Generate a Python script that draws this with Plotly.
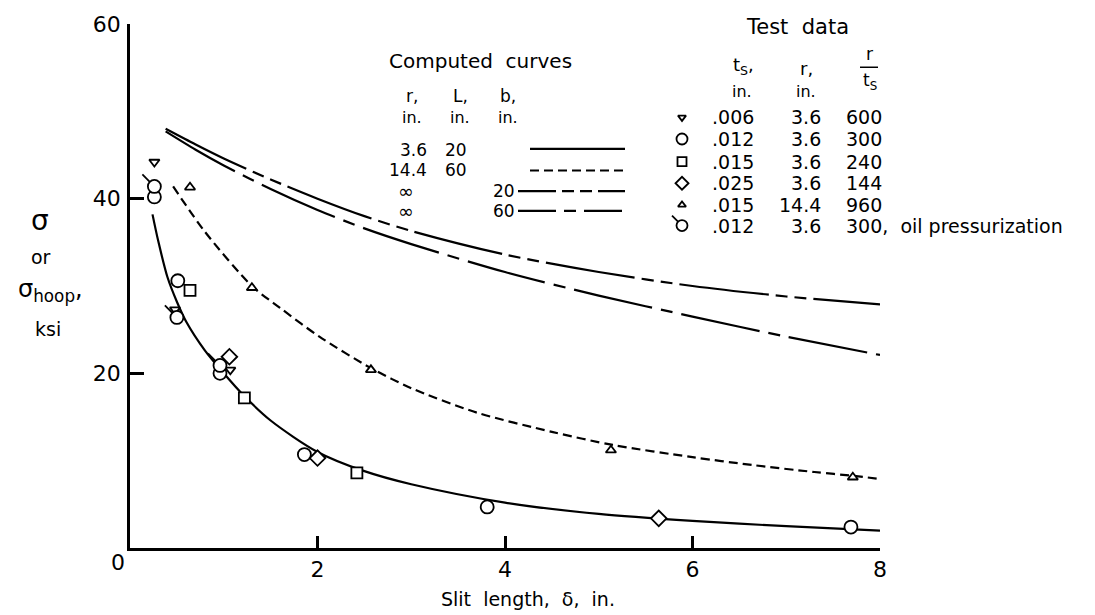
import plotly.graph_objects as go

# ---------------- data ----------------
# computed curves
c36_x = [0.24, 0.3, 0.4, 0.5, 0.6, 0.8, 1.0, 1.2, 1.5, 2.0, 2.5, 3.0, 4.0, 5.0, 6.0, 7.0, 8.0]
c36_y = [38.2, 35.2, 31.0, 28.2, 25.9, 22.6, 20.0, 17.6, 14.6, 11.0, 8.8, 7.3, 5.2, 3.9, 3.1, 2.5, 2.0]
c144_x = [0.46, 0.8, 1.3, 1.6, 2.02, 2.57, 3.0, 3.7, 4.5, 5.15, 6.0, 6.64, 7.3, 7.77, 8.0]
c144_y = [41.4, 36.2, 30.0, 27.5, 24.2, 20.6, 18.3, 15.5, 13.3, 11.8, 10.4, 9.5, 8.7, 8.2, 7.9]
cinf20_x = [0.38, 0.7, 1.0, 1.5, 2.0, 2.5, 3.0, 4.0, 5.0, 6.0, 7.0, 8.0]
cinf20_y = [48.0, 46.2, 44.6, 42.2, 40.0, 38.0, 36.3, 33.6, 31.6, 30.0, 28.8, 27.9]
cinf60_x = [0.38, 0.7, 1.0, 1.5, 2.0, 2.5, 3.0, 4.0, 5.0, 6.0, 7.0, 8.0]
cinf60_y = [47.7, 45.6, 43.8, 41.1, 38.7, 36.6, 34.8, 31.6, 28.9, 26.5, 24.2, 22.1]

# test data
t006_x = [0.26, 0.48, 1.07, 2.0]
t006_y = [44.2, 27.3, 20.4, 10.3]
t012_x = [0.26, 0.51, 0.96, 1.86, 3.81, 7.69]
t012_y = [40.2, 30.6, 20.0, 10.7, 4.7, 2.4]
t015_x = [0.64, 1.22, 2.42]
t015_y = [29.5, 17.2, 8.6]
t025_x = [1.06, 2.0, 5.64]
t025_y = [21.9, 10.3, 3.4]
t015b_x = [0.64, 1.30, 2.57, 5.13, 7.71]
t015b_y = [41.3, 29.8, 20.4, 11.2, 8.1]
oil_x = [0.26, 0.50, 0.96]
oil_y = [41.4, 26.4, 20.9]

x_ticks = [2, 4, 6, 8]
y_ticks = [20, 40, 60]

# legend table text
comp_r = ["3.6", "14.4", "\u221e", "\u221e"]
comp_L = ["20", "60", "", ""]
comp_b = ["", "", "20", "60"]
test_ts = [".006", ".012", ".015", ".025", ".015", ".012"]
test_r = ["3.6", "3.6", "3.6", "3.6", "14.4", "3.6"]
test_ratio = ["600", "300", "240", "144", "960", "300,  oil pressurization"]

# ---------------- figure ----------------
FONT = "DejaVu Sans"
W, H = 1095, 615
L, R, T, B = 130, 215, 15, 67
PW, PH = W - L - R, H - T - B


def px(xp):
    return (xp - L) / PW


def py(yp):
    return (H - B - yp) / PH


fig = go.Figure()
LW = 2.2
fig.add_trace(go.Scatter(x=c36_x, y=c36_y, mode="lines", line=dict(color="black", width=LW, shape="spline", smoothing=0.8)))
fig.add_trace(go.Scatter(x=c144_x, y=c144_y, mode="lines", line=dict(color="black", width=LW, shape="spline", smoothing=0.8, dash="9px,5px")))
DASH20 = "90px,7px,12px,7px,12px,7px"
DASH60 = "80px,9px,12px,9px"
fig.add_trace(go.Scatter(x=cinf20_x, y=cinf20_y, mode="lines", line=dict(color="black", width=LW, shape="spline", smoothing=0.8, dash=DASH20)))
fig.add_trace(go.Scatter(x=cinf60_x, y=cinf60_y, mode="lines", line=dict(color="black", width=LW, shape="spline", smoothing=0.8, dash=DASH60)))

mk = dict(color="white", line=dict(color="black", width=1.8))
series = [
    (t006_x, t006_y, "triangle-down", 9),
    (t012_x, t012_y, "circle", 13),
    (t015_x, t015_y, "square", 11),
    (t025_x, t025_y, "diamond", 12),
    (t015b_x, t015b_y, "triangle-up", 9),
    (oil_x, oil_y, "circle", 13),
]
for sx, sy, sym, sz in series:
    fig.add_trace(go.Scatter(x=sx, y=sy, mode="markers", cliponaxis=False,
                             marker=dict(symbol=sym, size=sz, **mk)))


def tail(xa, ya, xr, yr, r0=4.6, r1=12):
    # short tail toward upper-left of an oil-pressurization circle (pixel-sized shape)
    fig.add_shape(type="line", xref=xr, yref=yr, xsizemode="pixel", ysizemode="pixel",
                  xanchor=xa, yanchor=ya, x0=-r1, y0=r1, x1=-r0, y1=r0,
                  line=dict(color="black", width=1.8))


for ox, oy in zip(oil_x, oil_y):
    tail(ox, oy, "x", "y")

# legend markers on pixel overlay axes
row_y = [110, 132, 155, 177, 199, 220]
for (sx, sy, sym, sz), ry in zip(series, row_y):
    fig.add_trace(go.Scatter(x=[682], y=[ry], xaxis="x2", yaxis="y2", mode="markers", cliponaxis=False,
                             marker=dict(symbol=sym, size=sz - 2 if sym != "circle" else 11, **mk)))
tail(682, 220, "x2", "y2", 4, 10)


def txt(s, xp, yp, size=18, anchor="center"):
    fig.add_annotation(x=px(xp), y=py(yp), xref="paper", yref="paper", text=s, showarrow=False,
                       xanchor=anchor, yanchor="middle", borderpad=0, borderwidth=0,
                       font=dict(family=FONT, size=size, color="black"))


# computed curves legend
txt("Computed  curves", 480, 53, 20)
for s, xc in zip(["r,", "L,", "b,"], [412, 460, 508]):
    txt(s, xc, 88, 17)
    txt("in.", xc, 110, 16)
leg_y = [143, 163, 185, 205]
for r_, l_, b_, yy in zip(comp_r, comp_L, comp_b, leg_y):
    if r_ == "\u221e":
        txt(r_, 406, yy, 19)
    else:
        txt(r_, 427, yy, 17, "right")
    if l_:
        txt(l_, 456, yy, 17)
    if b_:
        txt(b_, 504, yy, 17)
line_specs = [(530, 142, "solid"), (530, 164, "9px,5px"), (518, 185, "38px,6px,12px,6px,12px,6px"), (518, 205, "38px,8px,12px,8px")]
for x0p, yp, d in line_specs:
    fig.add_shape(type="line", xref="paper", yref="paper", x0=px(x0p), x1=px(625), y0=py(yp), y1=py(yp),
                  line=dict(color="black", width=LW, dash=d))

# test data legend
txt("Test  data", 797, 18, 21)
txt("t<sub>S</sub>,", 743, 58, 18)
txt("r,", 806, 60, 18)
txt("in.", 742, 84, 16)
txt("in.", 806, 84, 16)
txt("r", 869, 46, 17)
fig.add_shape(type="line", xref="paper", yref="paper", x0=px(860), x1=px(878), y0=py(59), y1=py(59),
              line=dict(color="black", width=1.5))
txt("t<sub>S</sub>", 870, 73, 17)
for a, b_, c, yy in zip(test_ts, test_r, test_ratio, row_y):
    txt(a, 712, yy, 19, "left")
    txt(b_, 821, yy, 19, "right")
    txt(c, 846, yy, 19, "left")

# axis labels
txt("0", 118, 563, 22)
txt("Slit  length,  \u03b4,  in.", 528, 600, 19)
txt("\u03c3", 40, 215, 28)
txt("or", 41, 252, 19)
txt("\u03c3<sub>hoop</sub>,", 50, 286, 24)
txt("ksi", 48, 325, 19)

fig.update_layout(
    width=W, height=H, margin=dict(l=L, r=R, t=T, b=B),
    paper_bgcolor="white", plot_bgcolor="white", showlegend=False,
    font=dict(family=FONT, color="black"),
    xaxis=dict(range=[0, 8], showgrid=False, zeroline=False, showline=True, linecolor="black", linewidth=2.5,
               ticks="inside", ticklen=12, tickwidth=2.5, tickcolor="black", tickvals=x_ticks,
               ticktext=[str(v) for v in x_ticks], tickfont=dict(family=FONT, size=22, color="black")),
    yaxis=dict(range=[0, 60], showgrid=False, zeroline=False, showline=True, linecolor="black", linewidth=2.5,
               ticks="inside", ticklen=14, tickwidth=2.5, tickcolor="black", tickvals=y_ticks,
               ticktext=[str(v) for v in y_ticks], tickfont=dict(family=FONT, size=22, color="black"),
               ticklabelstandoff=2),
    xaxis2=dict(range=[L, W - R], overlaying="x", visible=False, anchor="y2"),
    yaxis2=dict(range=[H - B, T], overlaying="y", visible=False, anchor="x2"),
)

fig.write_html("out.html")
